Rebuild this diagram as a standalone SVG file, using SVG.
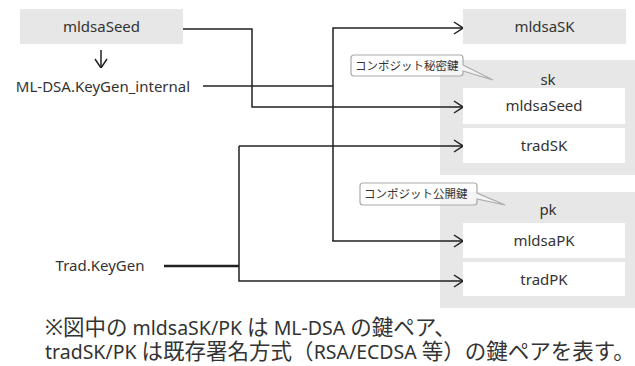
<svg xmlns="http://www.w3.org/2000/svg" width="635" height="366" viewBox="0 0 635 366">
<style>
text{font-family:"Noto Sans","Noto Sans CJK JP",sans-serif;fill:#333}
.n{font-size:15px;text-anchor:middle}
.g{fill:#e7e7e7}
.w{fill:#fff}
.c{fill:none;stroke:#222;stroke-width:1.5}
.co{fill:#fff;fill-opacity:0.55;stroke:#aaa;stroke-width:1.2}
.ct{font-size:11.5px}
.f{font-size:19.5px}
.j{font-size:21.5px}
</style>
<defs>
<marker id="a" viewBox="0 0 10 14" refX="10" refY="7" markerWidth="10" markerHeight="14" markerUnits="userSpaceOnUse" orient="auto">
<path d="M1,1 L10,7 L1,13" fill="none" stroke="#222" stroke-width="1.5"/>
</marker>
</defs>
<g id="sk">
<rect class="g" x="440" y="60" width="195" height="115"/>
<text class="n" x="548" y="85">sk</text>
</g>
<g id="pk">
<rect class="g" x="440" y="192" width="195" height="116"/>
<text class="n" x="548" y="215">pk</text>
</g>
<g id="mldsaSeed-top">
<rect class="g" x="20" y="9" width="163" height="35"/>
<text class="n" x="101.5" y="32">mldsaSeed</text>
</g>
<g id="keygen-internal">
<text class="n" x="103" y="92">ML-DSA.KeyGen_internal</text>
</g>
<g id="trad-keygen">
<text class="n" x="100" y="271">Trad.KeyGen</text>
</g>
<g id="mldsaSK">
<rect class="g" x="463" y="9" width="163" height="35"/>
<text class="n" x="544.5" y="32">mldsaSK</text>
</g>
<g id="mldsaSeed-sk">
<rect class="w" x="463" y="88" width="162" height="36"/>
<text class="n" x="544" y="111">mldsaSeed</text>
</g>
<g id="tradSK">
<rect class="w" x="463" y="128" width="162" height="35"/>
<text class="n" x="544" y="151">tradSK</text>
</g>
<g id="mldsaPK">
<rect class="w" x="463" y="223" width="162" height="35"/>
<text class="n" x="544" y="246">mldsaPK</text>
</g>
<g id="tradPK">
<rect class="w" x="463" y="262" width="162" height="34"/>
<text class="n" x="544" y="285">tradPK</text>
</g>
<g id="callout-sk">
<path class="co" d="M354,55 H460 Q463,55 463,58 V65 L493,80 L463,71 V73 Q463,76 460,76 H354 Q351,76 351,73 V58 Q351,55 354,55 Z"/>
<text class="ct" x="355" y="70">コンポジット秘密鍵</text>
</g>
<g id="callout-pk">
<path class="co" d="M363,183 H474 Q477,183 477,186 V193 L505,205 L477,199 V202 Q477,205 474,205 H363 Q360,205 360,202 V186 Q360,183 363,183 Z"/>
<text class="ct" x="364" y="198">コンポジット公開鍵</text>
</g>
<g id="connectors">
<path class="c" d="M101,50 V68" marker-end="url(#a)"/>
<path class="c" d="M183,29 H252 V107 H463" marker-end="url(#a)"/>
<path class="c" d="M203,86 H333"/>
<path class="c" d="M333,241 V28 H463" marker-end="url(#a)"/>
<path class="c" d="M333,240 V241 H463" marker-end="url(#a)"/>
<path class="c" d="M164,266 H239" style="stroke-width:2.5"/>
<path class="c" d="M239,146 V281 H463" marker-end="url(#a)"/>
<path class="c" d="M239,146 H463" marker-end="url(#a)"/>
</g>
<g id="note">
<text class="f" x="45" y="335"><tspan class="j">※図中の</tspan> mldsaSK/PK <tspan class="j">は</tspan> ML-DSA <tspan class="j">の鍵ペア、</tspan></text>
<text class="f" x="45" y="359">tradSK/PK <tspan class="j">は既存署名方式（</tspan>RSA/ECDSA <tspan class="j">等）の鍵ペアを表す。</tspan></text>
</g>
</svg>
